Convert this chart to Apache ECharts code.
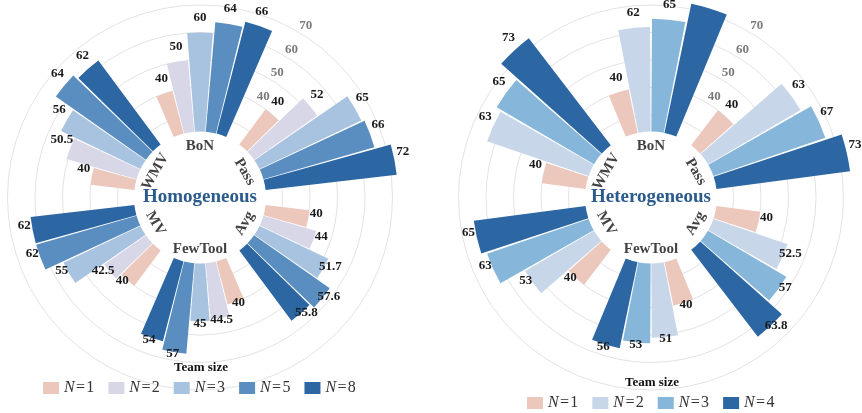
<!DOCTYPE html>
<html><head><meta charset="utf-8">
<script src="https://cdn.jsdelivr.net/npm/echarts@6/dist/echarts.min.js"></script>
<style>html,body{margin:0;padding:0;background:#fff}#c{width:862px;height:413px}</style>
</head><body><div id="c"></div>
<script>
// ---- data ----
const methods = ['BoN', 'Pass', 'Avg', 'FewTool', 'MV', 'WMV'];
const radiusTickLabels = [40, 50, 60, 70];

const homoTeamSizes = [1, 2, 3, 5, 8];
const homoN1 = [40, 40, 40, 40, 40, 40];
const homoN2 = [50, 52, 44, 44.5, 42.5, 50.5];
const homoN3 = [60, 65, 51.7, 45, 55, 56];
const homoN5 = [64, 66, 57.6, 57, 62, 64];
const homoN8 = [66, 72, 55.8, 54, 62, 62];

const heteroTeamSizes = [1, 2, 3, 4];
const heteroN1 = [40, 40, 40, 40, 40, 40];
const heteroN2 = [62, 63, 52.5, 51, 53, 63];
const heteroN3 = [65, 67, 57, 53, 63, 65];
const heteroN4 = [72, 73, 63.8, 56, 65, 73];

const homoColors = ['#ecc7bb', '#d8d7e8', '#a8c3e0', '#5a8dc0', '#2c67a3'];
const heteroColors = ['#ecc7bb', '#c7d6e9', '#86b6d9', '#2c67a3'];

const SERIF = '"Liberation Serif", "DejaVu Serif", serif';
const chartEl = echarts.init(document.getElementById('c'));

const charts = [
  { cx: 200, cy: 197.5, title: 'Homogeneous', sizes: homoTeamSizes,
    values: [homoN1, homoN2, homoN3, homoN5, homoN8], colors: homoColors,
    catGap: '22%', teamY: 368, legendLeft: 43, legendTop: 380, key: 'homo' },
  { cx: 651, cy: 197.5, title: 'Heterogeneous', sizes: heteroTeamSizes,
    values: [heteroN1, heteroN2, heteroN3, heteroN4], colors: heteroColors,
    catGap: '25%', teamY: 383, legendLeft: 527, legendTop: 395, key: 'hetero' }
];

const labelRot = [0, -60, 60, 0, -60, 60];

const polar = [], angleAxis = [], radiusAxis = [], series = [], legend = [], title = [];
const nameMap = {};

charts.forEach((c, ci) => {
  const base = ci * 3;
  // grid polar
  polar.push({ center: [c.cx, c.cy], radius: [55, 220] });
  angleAxis.push({ polarIndex: base, type: 'category', data: methods, startAngle: 59,
    axisLine: { show: false }, axisTick: { show: false }, axisLabel: { show: false }, splitLine: { show: false } });
  radiusAxis.push({ polarIndex: base, type: 'value', min: 20, max: 80, interval: 10,
    axisLine: { show: false }, axisTick: { show: false },
    splitLine: { show: true, lineStyle: { color: ['rgba(0,0,0,0)', '#e3e3e3', '#e3e3e3', '#e3e3e3', '#e3e3e3', '#e3e3e3', 'rgba(0,0,0,0)'], width: 1 } },
    axisLabel: { show: true, margin: 0, align: 'left', verticalAlign: 'bottom',
      color: '#7a7a7a', fontFamily: SERIF, fontSize: 13, fontWeight: 'bold',
      formatter: v => radiusTickLabels.indexOf(v) >= 0 ? String(v) : '' } });
  // bar polar
  polar.push({ center: [c.cx, c.cy], radius: [66, 220] });
  angleAxis.push({ polarIndex: base + 1, type: 'category', data: methods, startAngle: 120, clockwise: true,
    axisLine: { show: false }, axisTick: { show: false }, axisLabel: { show: false }, splitLine: { show: false } });
  radiusAxis.push({ polarIndex: base + 1, type: 'value', min: 24, max: 80,
    axisLine: { show: false }, axisTick: { show: false }, axisLabel: { show: false }, splitLine: { show: false } });
  // label polar
  polar.push({ center: [c.cx, c.cy], radius: [0, 51.5] });
  angleAxis.push({ polarIndex: base + 2, type: 'category', data: methods, startAngle: 120, clockwise: true,
    axisLine: { show: false }, axisTick: { show: false }, axisLabel: { show: false }, splitLine: { show: false } });
  radiusAxis.push({ polarIndex: base + 2, type: 'value', min: 0, max: 1,
    axisLine: { show: false }, axisTick: { show: false }, axisLabel: { show: false }, splitLine: { show: false } });

  const names = [];
  c.sizes.forEach((n, k) => {
    const nm = c.key + '_' + n;
    names.push(nm);
    nameMap[nm] = n;
    series.push({
      type: 'bar', name: nm, coordinateSystem: 'polar', polarIndex: base + 1,
      data: c.values[k], barGap: '6%', barCategoryGap: c.catGap,
      itemStyle: { color: c.colors[k] },
      label: { show: true, position: 'end', distance: 8.5, rotate: 0, color: '#1a1a1a',
        fontFamily: SERIF, fontWeight: 'bold', fontSize: 13 },
      z: 3
    });
  });
  series.push({
    type: 'scatter', coordinateSystem: 'polar', polarIndex: base + 2, symbolSize: 1,
    itemStyle: { color: 'rgba(0,0,0,0)' }, silent: true,
    data: methods.map((m, i) => ({ name: m, value: [1, i], label: { rotate: labelRot[i] } })),
    label: { show: true, position: 'inside', formatter: p => p.name, color: '#111',
      fontFamily: SERIF, fontWeight: 'bold', fontSize: 15 }
  });
  legend.push({ data: names, left: c.legendLeft, top: c.legendTop, padding: 0,
    itemWidth: 16, itemHeight: 12, itemGap: 14, icon: 'rect',
    formatter: nm => '{i|N}{t|\u200a=\u200a' + nameMap[nm] + '}',
    textStyle: { fontFamily: SERIF, fontSize: 16, color: '#333',
      rich: { i: { fontStyle: 'italic', fontFamily: SERIF, fontSize: 16, color: '#333' },
              t: { fontFamily: SERIF, fontSize: 16, color: '#333' } } } });
  title.push({ text: c.title, left: c.cx, top: c.cy, textAlign: 'center', textVerticalAlign: 'middle', padding: 0,
    textStyle: { fontFamily: SERIF, fontWeight: 'bold', fontSize: 19, color: '#2b5a8c' } });
  title.push({ text: 'Team size', left: c.cx + 1, top: c.teamY, textAlign: 'center', textVerticalAlign: 'middle', padding: 0,
    textStyle: { fontFamily: SERIF, fontWeight: 'bold', fontSize: 13, color: '#111' } });
});

chartEl.setOption({ animation: false, backgroundColor: '#fff', title, polar, angleAxis, radiusAxis, series, legend });
</script></body></html>
